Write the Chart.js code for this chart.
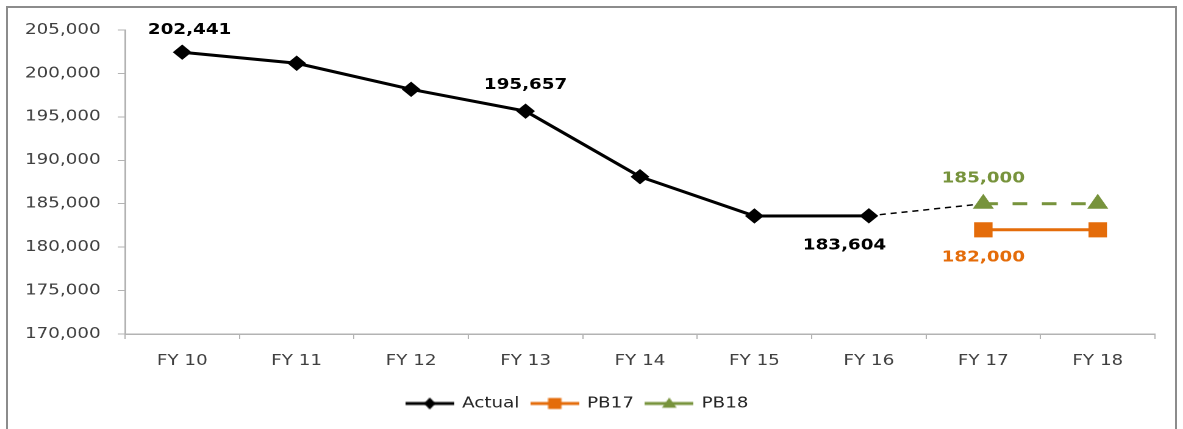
<!DOCTYPE html>
<html>
<head>
<meta charset="utf-8">
<script src="https://cdn.jsdelivr.net/npm/chart.js@4.4.1/dist/chart.umd.min.js"></script>
<style>
  html, body { margin: 0; padding: 0; background: #fff; overflow: hidden; }
  #frame {
    position: absolute; left: 6px; top: 6px; width: 1171px; height: 440px;
    border: 2px solid #8c8c8c; box-sizing: border-box;
  }
  #wrap {
    position: absolute; left: 0; top: 0; width: 970px; height: 429px;
    transform: scaleX(1.2196); transform-origin: 0 0;
  }
</style>
</head>
<body>
<div id="frame"></div>
<div id="wrap"><canvas id="chart" width="970" height="429"></canvas></div>
<script>
const categories = ['FY 10', 'FY 11', 'FY 12', 'FY 13', 'FY 14', 'FY 15', 'FY 16', 'FY 17', 'FY 18'];
const actual = [202441, 201170, 198170, 195657, 188110, 183590, 183604, null, null];
const pb17 = [null, null, null, null, null, null, null, 182000, 182000];
const pb18 = [null, null, null, null, null, null, null, 185000, 185000];
const yTicks = [170000, 175000, 180000, 185000, 190000, 195000, 200000, 205000];

// dashed link from last actual to first PB18 value
const bridge = categories.map((c, i) => (i === 6 ? actual[6] : i === 7 ? pb18[7] : null));

const BLACK = '#000000';
const ORANGE = '#E46C0A';
const GREEN = '#77933C';
const FONT = '"DejaVu Sans", Verdana, sans-serif';

// which points get a value label, and where (offsets in canvas px)
const valueLabels = [
  { ds: 0, i: 0, dx: 6, dy: -22, color: BLACK },
  { ds: 0, i: 3, dx: 0, dy: -26, color: BLACK },
  { ds: 0, i: 6, dx: -20, dy: 30, color: BLACK },
  { ds: 2, i: 7, dx: 0, dy: -25, color: GREEN },
  { ds: 1, i: 7, dx: 0, dy: 28, color: ORANGE },
];

function legendIcon(color, style, r) {
  const c = document.createElement('canvas');
  c.width = 40; c.height = 20;
  const g = c.getContext('2d');
  g.strokeStyle = color; g.fillStyle = color; g.lineWidth = 3;
  g.beginPath(); g.moveTo(0, 10); g.lineTo(40, 10); g.stroke();
  g.beginPath();
  if (style === 'diamond') {
    g.moveTo(20, 10 - r); g.lineTo(20 + r * 0.8, 10); g.lineTo(20, 10 + r); g.lineTo(20 - r * 0.8, 10);
  } else if (style === 'square') {
    g.rect(20 - r, 10 - r, 2 * r, 2 * r);
  } else {
    g.moveTo(20, 10 - r); g.lineTo(20 + r, 10 + r * 0.7); g.lineTo(20 - r, 10 + r * 0.7);
  }
  g.closePath(); g.fill();
  return c;
}
const icons = [legendIcon(BLACK, 'diamond', 6), legendIcon(ORANGE, 'square', 5.5), legendIcon(GREEN, 'triangle', 6)];

const labelPlugin = {
  id: 'valueLabels',
  afterDatasetsDraw(chart) {
    const ctx = chart.ctx;
    ctx.save();
    ctx.font = 'bold 15px ' + FONT;
    ctx.textAlign = 'center';
    ctx.textBaseline = 'middle';
    valueLabels.forEach(l => {
      const pt = chart.getDatasetMeta(l.ds).data[l.i];
      const v = chart.data.datasets[l.ds].data[l.i];
      ctx.fillStyle = l.color;
      ctx.fillText(v.toLocaleString('en-US'), pt.x + l.dx, pt.y + l.dy);
    });
    ctx.restore();
  }
};

new Chart(document.getElementById('chart'), {
  type: 'line',
  data: {
    labels: categories,
    datasets: [
      { label: 'Actual', data: actual, borderColor: BLACK, backgroundColor: BLACK, borderWidth: 3,
        pointStyle: 'rectRot', pointRadius: 7, pointHoverRadius: 7, pointBorderWidth: 1, tension: 0 },
      { label: 'PB17', data: pb17, borderColor: ORANGE, backgroundColor: ORANGE, borderWidth: 3,
        pointStyle: 'rect', pointRadius: 10, pointHoverRadius: 10, pointBorderWidth: 1, tension: 0 },
      { label: 'PB18', data: pb18, borderColor: GREEN, backgroundColor: GREEN, borderWidth: 3,
        borderDash: [12, 12], pointStyle: 'triangle', pointRadius: 9, pointHoverRadius: 9,
        pointBorderWidth: 1, tension: 0 },
      { label: 'bridge', data: bridge, borderColor: BLACK, borderWidth: 1.5, borderDash: [5, 4],
        pointRadius: 0, tension: 0 },
    ],
  },
  options: {
    responsive: false,
    animation: false,
    devicePixelRatio: 2,
    layout: { padding: { left: 0, right: 23, top: 30, bottom: 8 } },
    plugins: {
      tooltip: { enabled: false },
      legend: {
        position: 'bottom',
        labels: {
          font: { family: FONT, size: 15 },
          color: '#262626',
          usePointStyle: true,
          pointStyleWidth: 38,
          padding: 10,
          generateLabels: chart => chart.data.datasets.slice(0, 3).map((d, i) => ({
            text: d.label, pointStyle: icons[i], datasetIndex: i,
            fillStyle: d.borderColor, strokeStyle: d.borderColor, lineWidth: 0,
            fontColor: '#262626', hidden: false,
          })),
        },
      },
    },
    scales: {
      x: {
        offset: true,
        grid: { offset: true, drawOnChartArea: false, drawTicks: true, tickLength: 5, color: '#b3b3b3' },
        border: { color: '#b3b3b3', width: 1.5 },
        ticks: { font: { family: FONT, size: 15 }, color: '#404040', padding: 13 },
        afterFit: s => { s.height = 52; },
      },
      y: {
        min: 170000, max: 205000,
        grid: { drawOnChartArea: false, drawTicks: true, tickLength: 6, color: '#b3b3b3' },
        border: { color: '#b3b3b3', width: 1.5 },
        afterBuildTicks: s => { s.ticks = yTicks.map(v => ({ value: v })); },
        ticks: {
          font: { family: FONT, size: 15 }, color: '#404040', padding: 14,
          callback: v => v.toLocaleString('en-US'),
        },
        afterFit: s => { s.width = 102.5; },
      },
    },
  },
  plugins: [labelPlugin],
});
</script>
</body>
</html>
